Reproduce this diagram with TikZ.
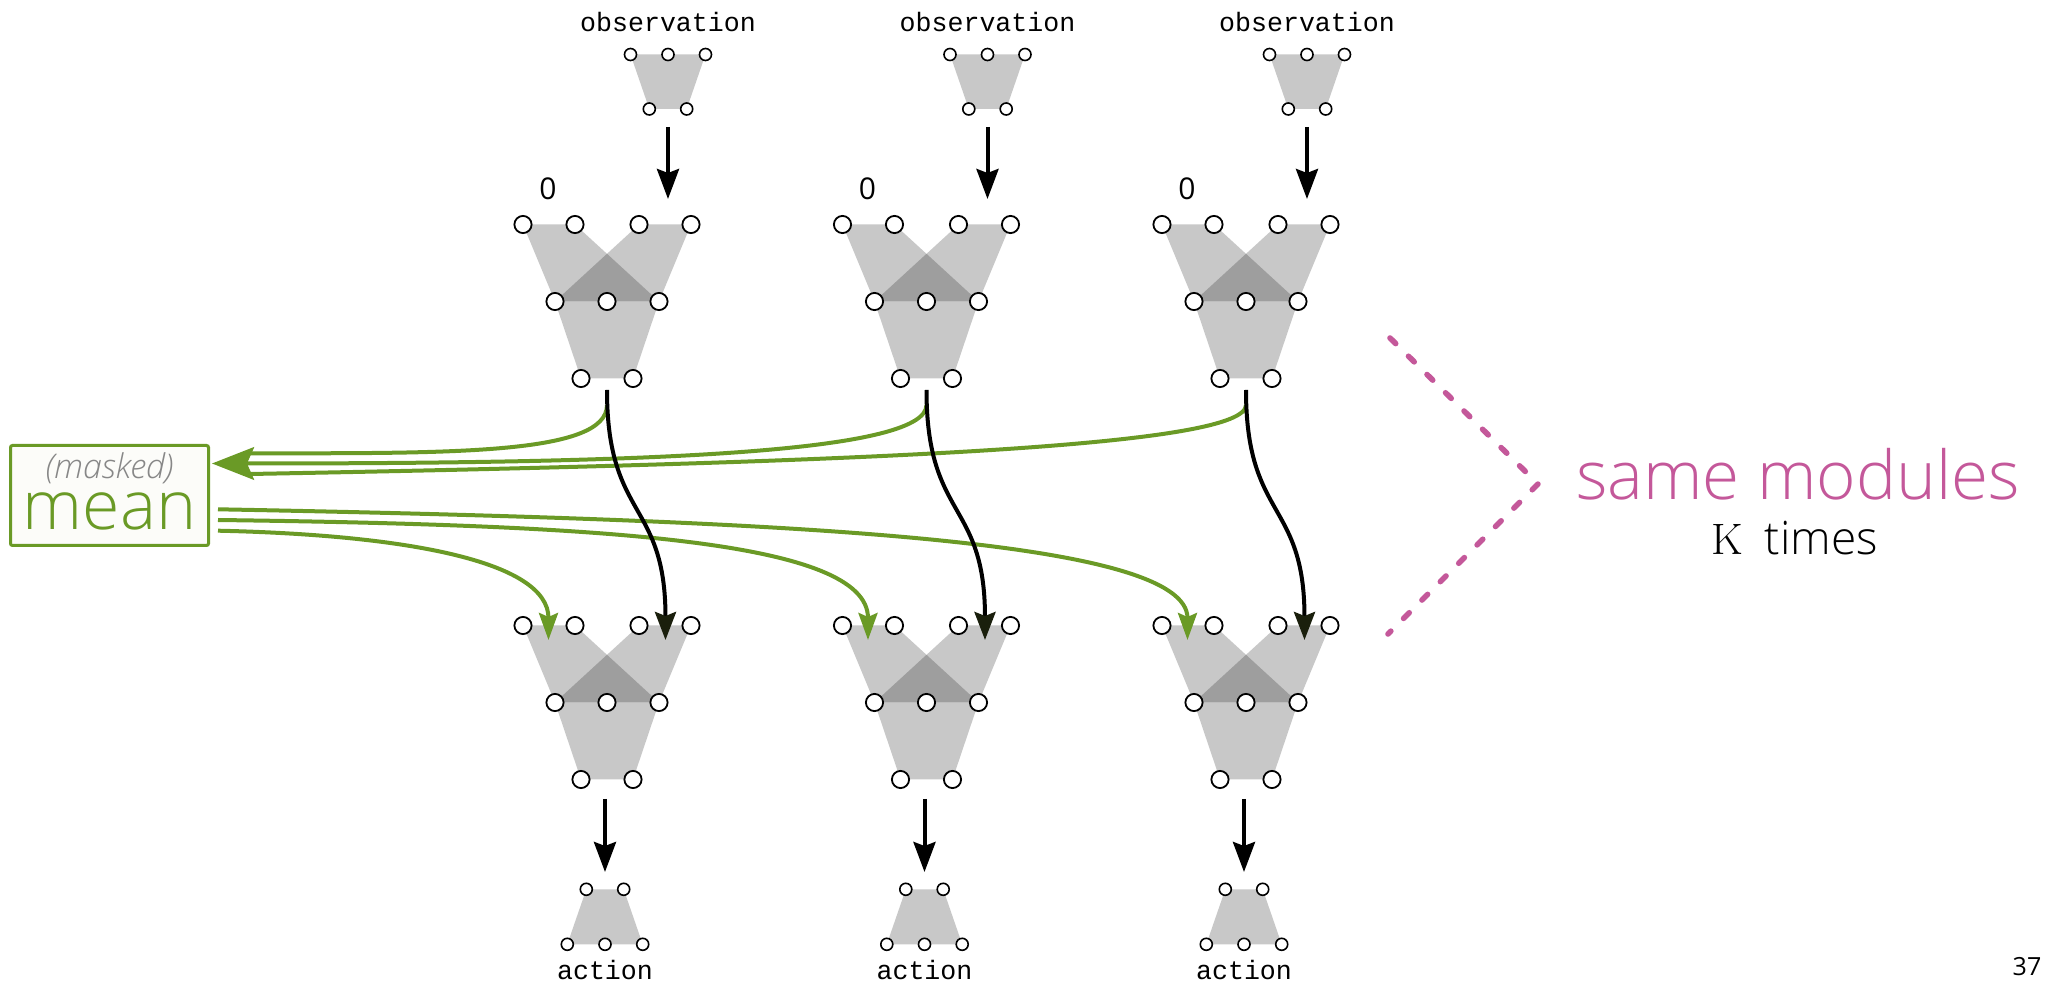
\documentclass[tikz,border=0pt]{standalone}
\usepackage{fontspec}
\newfontfamily\sansfont{Open Sans}
\newfontfamily\lightfont{Open Sans Light}
\newfontfamily\codefont{Liberation Mono}
\usetikzlibrary{arrows.meta}

\definecolor{modgray}{HTML}{C8C8C8}
\definecolor{moddark}{HTML}{9E9E9E}
\definecolor{meangreen}{HTML}{6A9A26}
\definecolor{modpink}{HTML}{C4589A}
\definecolor{darkolive}{HTML}{1A1F0C}
\definecolor{boxfill}{HTML}{FCFCF9}

% two-layer module: two crossing trapezoids over a third one
\newcommand\bigmod[3]{%
  \begin{scope}[shift={(#2,#3)}]
    \fill[modgray] (-84,0) -- (-32,0) -- (52,77) -- (-52,77) -- cycle;
    \fill[modgray] (32,0) -- (84,0) -- (52,77) -- (-52,77) -- cycle;
    \fill[modgray] (-52,77) -- (52,77) -- (26,154) -- (-26,154) -- cycle;
    \fill[moddark] (-52,77) -- (52,77) -- (0,29.3) -- cycle;
    \node[port] (#1c1) at (-84,0) {};
    \node[port] (#1c2) at (-32,0) {};
    \node[port] (#1c3) at (32,0) {};
    \node[port] (#1c4) at (84,0) {};
    \node[port] (#1m1) at (-52,77) {};
    \node[port] (#1m2) at (0,77) {};
    \node[port] (#1m3) at (52,77) {};
    \node[port] (#1b1) at (-26,154) {};
    \node[port] (#1b2) at (26,154) {};
  \end{scope}}

% encoder: three inputs, two outputs
\newcommand\encmod[3]{%
  \begin{scope}[shift={(#2,#3)}]
    \fill[modgray] (-37.5,0) -- (37.5,0) -- (18.7,54.5) -- (-18.7,54.5) -- cycle;
    \node[smallport] (#1t1) at (-37.5,0) {};
    \node[smallport] (#1t2) at (0,0) {};
    \node[smallport] (#1t3) at (37.5,0) {};
    \node[smallport] (#1b1) at (-18.7,54.5) {};
    \node[smallport] (#1b2) at (18.7,54.5) {};
  \end{scope}}

% decoder: two inputs, three outputs
\newcommand\decmod[3]{%
  \begin{scope}[shift={(#2,#3)}]
    \fill[modgray] (-18.7,0) -- (18.7,0) -- (37.7,55) -- (-37.7,55) -- cycle;
    \node[smallport] (#1t1) at (-18.7,0) {};
    \node[smallport] (#1t2) at (18.7,0) {};
    \node[smallport] (#1b1) at (-37.7,55) {};
    \node[smallport] (#1b2) at (0,55) {};
    \node[smallport] (#1b3) at (37.7,55) {};
  \end{scope}}

\begin{document}
\begin{tikzpicture}[x=0.5pt,y=-0.5pt,
  port/.style={circle,draw=black,fill=white,line width=0.9pt,inner sep=0pt,minimum size=8.6pt},
  smallport/.style={circle,draw=black,fill=white,line width=0.8pt,inner sep=0pt,minimum size=6pt},
  codetext/.style={font=\codefont\fontsize{13.3pt}{16pt}\selectfont},
  blackline/.style={draw=black,line width=2pt},
  blackarrow/.style={blackline,-{Stealth[length=15pt,width=11pt,inset=2pt]}},
  oliveheadarrow/.style={blackline,-{Stealth[length=14pt,width=10.5pt,inset=2pt,fill=darkolive,color=darkolive]}},
  greenline/.style={draw=meangreen,line width=2pt},
  greenarrow/.style={greenline,-{Stealth[length=13.5pt,width=9.5pt,inset=2pt]}},
  meanhead/.style={greenline,-{Stealth[length=21pt,width=16.3pt,inset=3.5pt]}},
  meanbox/.style={draw=meangreen,line width=1.5pt,fill=boxfill,rounded corners=1pt,
    minimum width=99pt,minimum height=50pt,inner sep=0pt},
  pinkdash/.style={draw=modpink,line width=2.8pt,line cap=round,dash pattern=on 4pt off 9pt}
]
\useasboundingbox (0,0) rectangle (2047,983);

\foreach \i/\cx in {1/607,2/926.5,3/1246}{
  % input encoder and its label
  \node[codetext] (obs\i) at (\cx+61,22) {observation};
  \encmod{e\i}{\cx+61}{54.5}
  % first and second layers
  \bigmod{u\i}{\cx}{224.5}
  \bigmod{l\i}{\cx}{625.5}
  \node[font=\sansfont\fontsize{15pt}{18pt}\selectfont] (zero\i) at (\cx-59,189) {0};
  % output decoder and its label
  \decmod{d\i}{\cx-2}{889.3}
  \node[codetext] (act\i) at (\cx-2,970) {action};
  % connector end points
  \coordinate (e\i-out) at (\cx+61,127);
  \coordinate (u\i-in) at (\cx+61,199);
  \coordinate (u\i-out) at (\cx,390);
  \coordinate (u\i-tap) at (\cx,405);
  \coordinate (l\i-inL) at (\cx-58.5,640);
  \coordinate (l\i-inR) at (\cx+58.5,640);
  \coordinate (l\i-out) at (\cx-2,799);
  \coordinate (d\i-in) at (\cx-2,872);
}

% pooling box
\node[meanbox] (mean) at (109.5,495.5) {};
\node[anchor=base,inner sep=0pt,text depth=0pt,text=black!47,font=\lightfont\itshape\fontsize{17pt}{20pt}\selectfont] (masked) at (109.5,479) {(masked)};
\node[anchor=base,inner sep=0pt,text height=18.5pt,text=meangreen,font=\lightfont\fontsize{34pt}{40pt}\selectfont] (meantxt) at (109.5,530) {mean};

\coordinate (mean-in1) at (250,453.3);
\coordinate (mean-in2) at (212,463.5);
\coordinate (mean-in3) at (250,474);
\coordinate (mean-out1) at (218,509.3);
\coordinate (mean-out2) at (218,520);
\coordinate (mean-out3) at (218,530.7);

% first-layer outputs gathered into the mean
\draw[greenline] (u1-tap) .. controls +(0,50) and +(200,0) .. (mean-in1);
\draw[greenline] (u3-tap) .. controls +(0,40) and +(650,-12) .. (mean-in3);
\draw[meanhead] (u2-tap) .. controls +(0,50) and +(410,0) .. (mean-in2);

% mean broadcast back to the second layer
\draw[greenarrow] (mean-out1) .. controls +(582,11) and +(0,-100) .. (l3-inL);
\draw[greenarrow] (mean-out2) .. controls +(382,5) and +(0,-100) .. (l2-inL);
\draw[greenarrow] (mean-out3) .. controls +(182,4) and +(0,-80) .. (l1-inL);

% per-agent data flow
\foreach \i in {1,2,3}{
  \draw[blackarrow] (e\i-out) -- (u\i-in);
  \draw[oliveheadarrow] (u\i-out) .. controls +(0,130) and +(0,-140) .. (l\i-inR);
  \draw[blackarrow] (l\i-out) -- (d\i-in);
}

% bracket and annotation
\draw[pinkdash] (1390,338) -- (1538,484) -- (1388,634);
\node[anchor=base,text=modpink,font=\lightfont\fontsize{33.7pt}{40pt}\selectfont] (same) at (1798,500) {same modules};
\node[anchor=base,font=\lightfont\fontsize{23pt}{28pt}\selectfont] (times) at (1794.5,555) {{\normalfont\fontsize{22pt}{26pt}\selectfont K}\hspace{11pt}times};

\node[font=\sansfont\fontsize{12.5pt}{15pt}\selectfont] (page) at (2027,967) {37};
\end{tikzpicture}
\end{document}
